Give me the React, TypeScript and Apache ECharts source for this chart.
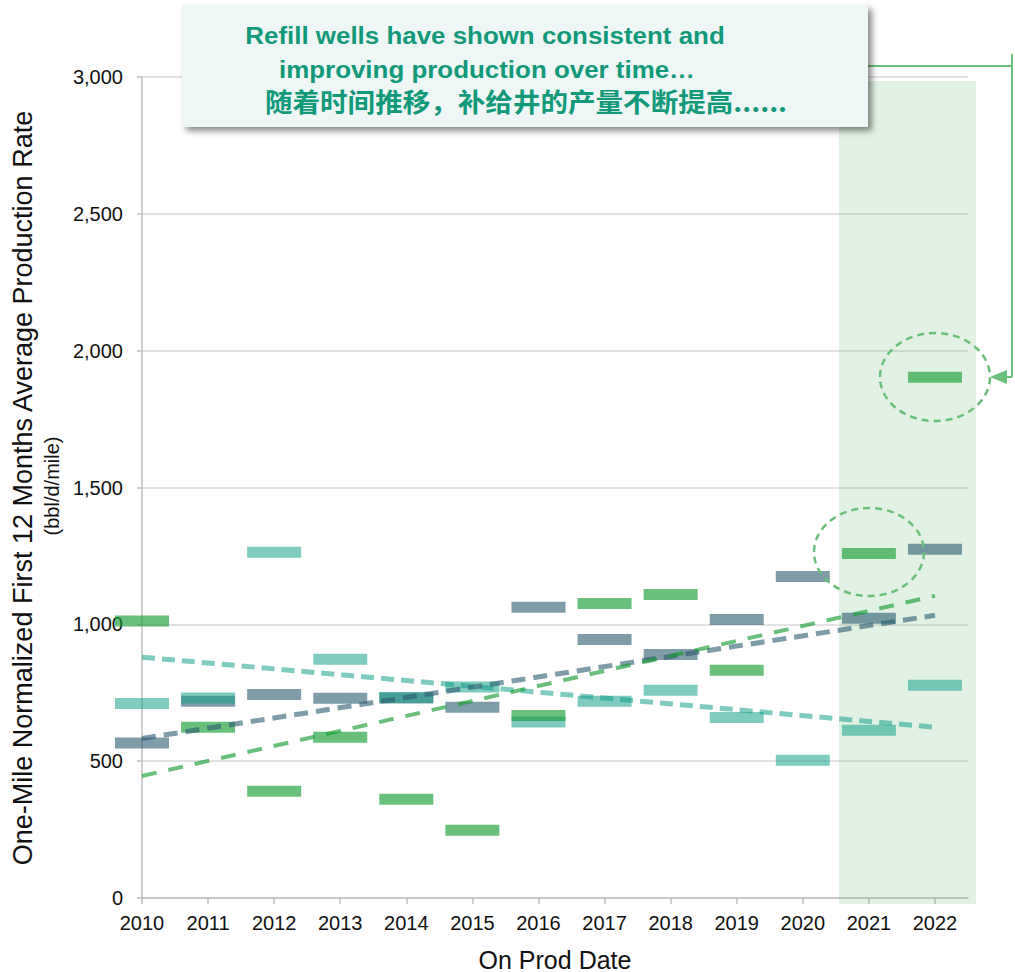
import React, { useEffect, useRef } from "react";
import * as echarts from "echarts";

const years = [2010, 2011, 2012, 2013, 2014, 2015, 2016, 2017, 2018, 2019, 2020, 2021, 2022];
const greenValues = [1012, 624, 390, 587, 361, 248, 667, 1076, 1109, 832, null, 1259, 1903];
const slateValues = [566, 719, 744, 730, 731, 697, 1062, 945, 890, 1018, 1175, 1022, 1274];
const tealValues = [711, 731, 1263, 872, 733, 771, 643, 719, 759, 660, 503, 613, 777];

const trendYears = [2010, 2022];
const greenTrend = [446, 1104];
const slateTrend = [583, 1033];
const tealTrend = [880, 624];

const yTicks = [0, 500, 1000, 1500, 2000, 2500, 3000];

const GREEN = "rgba(24,158,52,0.65)";
const SLATE = "rgba(42,90,112,0.6)";
const TEAL = "rgba(22,160,139,0.55)";
const LINE_GREEN = "#6abf7b";
const TEXT_GREEN = "#12997a";
const FONT = '"Liberation Sans", Arial, sans-serif';

function pairs(xs: number[], ys: (number | null)[]) {
  return xs.map((x, i) => [x, ys[i]]).filter((p) => p[1] !== null);
}

export default function App() {
  const ref = useRef<HTMLDivElement>(null);
  useEffect(() => {
    if (!ref.current) return;
    const chart = echarts.init(ref.current, undefined, { renderer: "svg" });
    const barSeries = (name: string, vals: (number | null)[], color: string, z: number) => ({
      type: "scatter",
      name,
      data: pairs(years, vals),
      symbol: "rect",
      symbolSize: [54, 11],
      itemStyle: { color, opacity: 1 },
      z,
      silent: true,
    });
    const trendSeries = (name: string, vals: number[], color: string, width: number, dash: number[]) => ({
      type: "line",
      name,
      data: pairs(trendYears, vals),
      symbol: "none",
      lineStyle: { color, width, type: dash, opacity: 1 },
      z: 5,
      silent: true,
    });
    chart.setOption({
      animation: false,
      grid: { left: 142, right: 47, top: 77, bottom: 74, outerBoundsMode: "none", containLabel: false },
      xAxis: {
        type: "value",
        min: 2010,
        max: 2022.5,
        interval: 1,
        name: "On Prod Date",
        nameLocation: "middle",
        nameGap: 49,
        nameTextStyle: { fontFamily: FONT, fontSize: 25, color: "#111" },
        axisLine: { show: true, lineStyle: { color: "#bfbfbf", width: 1.5 } },
        axisTick: { show: true, length: 6, lineStyle: { color: "#bfbfbf", width: 1.5 }, customValues: years },
        axisLabel: {
          customValues: years,
          formatter: (v: number) => (Number.isInteger(v) ? String(v) : ""),
          fontFamily: FONT,
          fontSize: 20,
          color: "#111",
          margin: 15,
        },
        splitLine: { show: false },
      },
      yAxis: {
        type: "value",
        min: 0,
        max: 3000,
        interval: 500,
        axisLine: { show: true, lineStyle: { color: "#bfbfbf", width: 1.5 } },
        axisTick: { show: true, length: 5, lineStyle: { color: "#bfbfbf", width: 1.5 } },
        axisLabel: {
          customValues: yTicks,
          formatter: (v: number) => v.toLocaleString("en-US"),
          fontFamily: FONT,
          fontSize: 20,
          color: "#111",
          margin: 19,
        },
        splitLine: { show: true, lineStyle: { color: "#d9d9d9", width: 1.5 } },
      },
      series: [
        barSeries("slate", slateValues, SLATE, 2),
        barSeries("teal", tealValues, TEAL, 3),
        barSeries("green", greenValues, GREEN, 4),
        trendSeries("tealTrend", tealTrend, TEAL, 5, [13, 7]),
        trendSeries("slateTrend", slateTrend, SLATE, 5, [14, 8]),
        trendSeries("greenTrend", greenTrend, GREEN, 4, [15, 12]),
      ],
      graphic: [
        {
          type: "rect",
          shape: { x: 839, y: 81, width: 137, height: 823 },
          style: { fill: "rgba(105,190,120,0.2)" },
          z: 1,
          silent: true,
        },
        {
          type: "ellipse",
          shape: { cx: 935, cy: 377, rx: 55, ry: 44 },
          style: { fill: "none", stroke: LINE_GREEN, lineWidth: 2.5, lineDash: [7, 5] },
          z: 20,
        },
        {
          type: "ellipse",
          shape: { cx: 869, cy: 552, rx: 55, ry: 44 },
          style: { fill: "none", stroke: LINE_GREEN, lineWidth: 2.5, lineDash: [7, 5] },
          z: 20,
        },
        {
          type: "line",
          shape: { x1: 868, y1: 66, x2: 1012, y2: 66 },
          style: { stroke: LINE_GREEN, lineWidth: 2 },
          z: 20,
        },
        {
          type: "line",
          shape: { x1: 1012, y1: 54, x2: 1012, y2: 377 },
          style: { stroke: LINE_GREEN, lineWidth: 2 },
          z: 20,
        },
        {
          type: "line",
          shape: { x1: 1012, y1: 377, x2: 1000, y2: 377 },
          style: { stroke: LINE_GREEN, lineWidth: 2 },
          z: 20,
        },
        {
          type: "polygon",
          shape: { points: [[990, 377], [1007, 370], [1007, 384]] },
          style: { fill: LINE_GREEN },
          z: 20,
        },
        {
          type: "rect",
          shape: { x: 182, y: 5, width: 686, height: 122 },
          style: {
            fill: "#eef7f5",
            shadowBlur: 6,
            shadowOffsetX: 4,
            shadowOffsetY: 4,
            shadowColor: "rgba(0,0,0,0.45)",
          },
          z: 30,
        },
        {
          type: "text",
          x: 485,
          y: 35,
          scaleX: 1.08,
          style: {
            text: "Refill wells have shown consistent and",
            font: `bold 24px ${FONT}`,
            fill: TEXT_GREEN,
            align: "center",
            verticalAlign: "middle",
          },
          z: 31,
        },
        {
          type: "text",
          x: 487,
          y: 69,
          scaleX: 1.08,
          style: {
            text: "improving production over time…",
            font: `bold 24px ${FONT}`,
            fill: TEXT_GREEN,
            align: "center",
            verticalAlign: "middle",
          },
          z: 31,
        },
        {
          type: "text",
          x: 526,
          y: 101,
          scaleX: 1.06,
          style: {
            text: "随着时间推移，补给井的产量不断提高......",
            font: 'bold 26px "Noto Sans CJK SC", sans-serif',
            fill: TEXT_GREEN,
            align: "center",
            verticalAlign: "middle",
          },
          z: 31,
        },
        {
          type: "text",
          x: 23,
          y: 488,
          rotation: Math.PI / 2,
          style: {
            text: "One-Mile Normalized First 12 Months Average Production Rate",
            font: `27px ${FONT}`,
            fill: "#111",
            align: "center",
            verticalAlign: "middle",
          },
        },
        {
          type: "text",
          x: 52,
          y: 486,
          rotation: Math.PI / 2,
          style: {
            text: "(bbl/d/mile)",
            font: `20px ${FONT}`,
            fill: "#111",
            align: "center",
            verticalAlign: "middle",
          },
        },
      ],
    });
    return () => chart.dispose();
  }, []);
  return (
    <div
      ref={ref}
      style={{ position: "fixed", left: 0, top: 0, width: 1015, height: 972, background: "#fff" }}
    />
  );
}
